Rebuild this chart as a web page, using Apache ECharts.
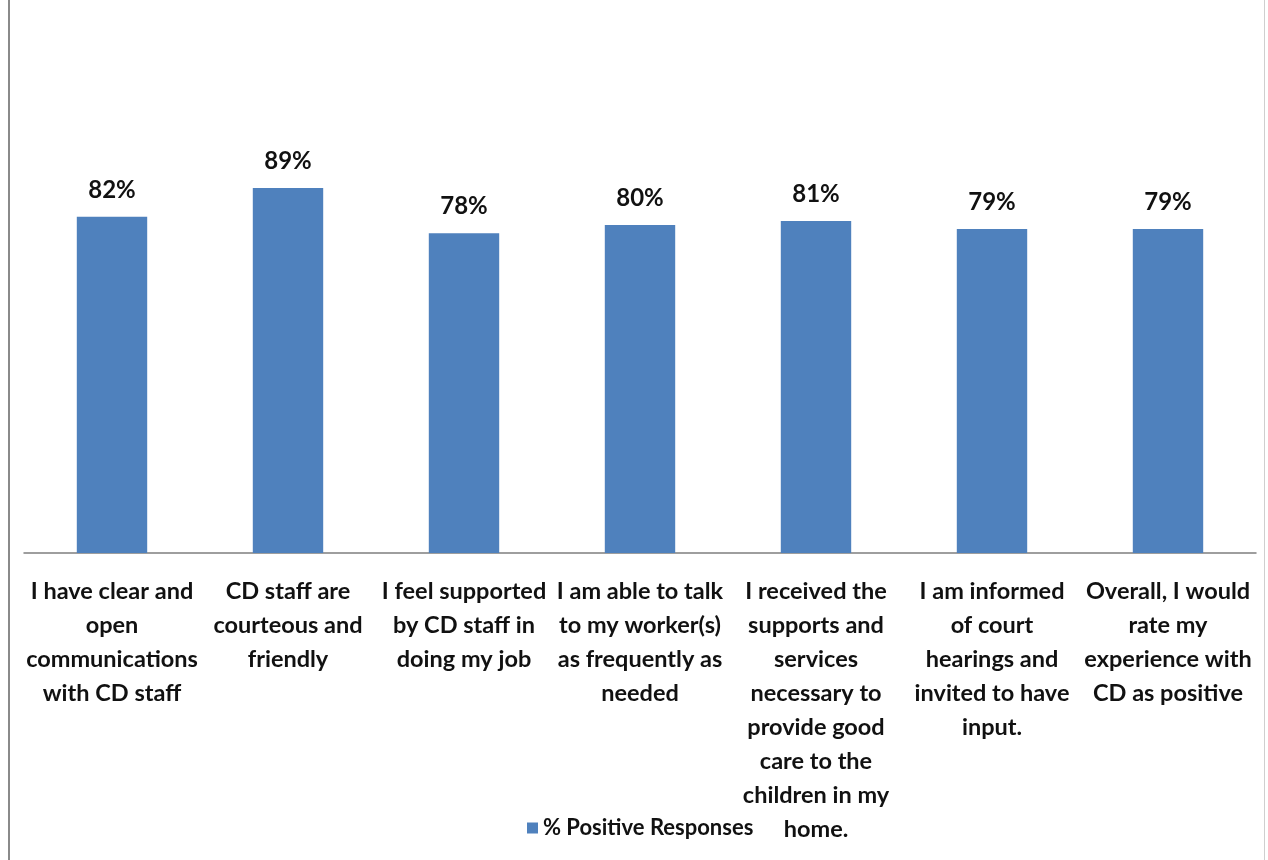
<!DOCTYPE html>
<html>
<head>
<meta charset="utf-8">
<style>
  html, body { margin: 0; padding: 0; background: #fff; }
  #chart { position: absolute; left: 0; top: 0; width: 1268px; height: 860px; }
  #frame { position: absolute; left: 8px; top: 0; width: 1257px; height: 860px;
           border-left: 2px solid #8a8a8a; border-right: 1px solid #cfcfcf;
           box-sizing: border-box; pointer-events: none; }
</style>
<script src="https://cdn.jsdelivr.net/npm/echarts@6/dist/echarts.min.js"></script>
</head>
<body>
<div id="chart"></div>
<div id="frame"></div>
<script>
// Survey statements (line breaks as they wrap under each bar)
const categories = [
  'I have clear and\nopen\ncommunications\nwith CD staff',
  'CD staff are\ncourteous and\nfriendly',
  'I feel supported\nby CD staff in\ndoing my job',
  'I am able to talk\nto my worker(s)\nas frequently as\nneeded',
  'I received the\nsupports and\nservices\nnecessary to\nprovide good\ncare to the\nchildren in my\nhome.',
  'I am informed\nof court\nhearings and\ninvited to have\ninput.',
  'Overall, I would\nrate my\nexperience with\nCD as positive'
];
const seriesName = '% Positive Responses';
const positive = [82, 89, 78, 80, 81, 79, 79];

const FONT = 'Lato, "Open Sans", sans-serif';

const chart = echarts.init(document.getElementById('chart'));
chart.setOption({
  animation: false,
  textStyle: { fontFamily: FONT },
  grid: { left: 24, right: 12, top: 143, bottom: 307, containLabel: false },
  legend: {
    data: [seriesName],
    left: 522, top: 812,
    itemWidth: 11, itemHeight: 11, itemGap: 8,
    icon: 'rect',
    textStyle: { fontFamily: FONT, fontWeight: 'bold', fontSize: 22, color: '#111' }
  },
  xAxis: {
    type: 'category',
    data: categories,
    axisLine: { lineStyle: { color: '#7f7f7f', width: 1.5 } },
    axisTick: { show: false },
    axisLabel: {
      interval: 0, margin: 21,
      fontFamily: FONT, fontWeight: 'bold', fontSize: 23.5, lineHeight: 34,
      color: '#111'
    }
  },
  yAxis: {
    type: 'value', min: 0, max: 100,
    show: false
  },
  series: [{
    name: seriesName,
    type: 'bar',
    data: positive,
    barWidth: '40%',
    itemStyle: { color: '#4f81bd' },
    label: {
      show: true, position: 'top', distance: 15,
      formatter: p => p.value + '%',
      fontFamily: FONT, fontWeight: 'bold', fontSize: 24, color: '#111'
    }
  }]
});
</script>
</body>
</html>
